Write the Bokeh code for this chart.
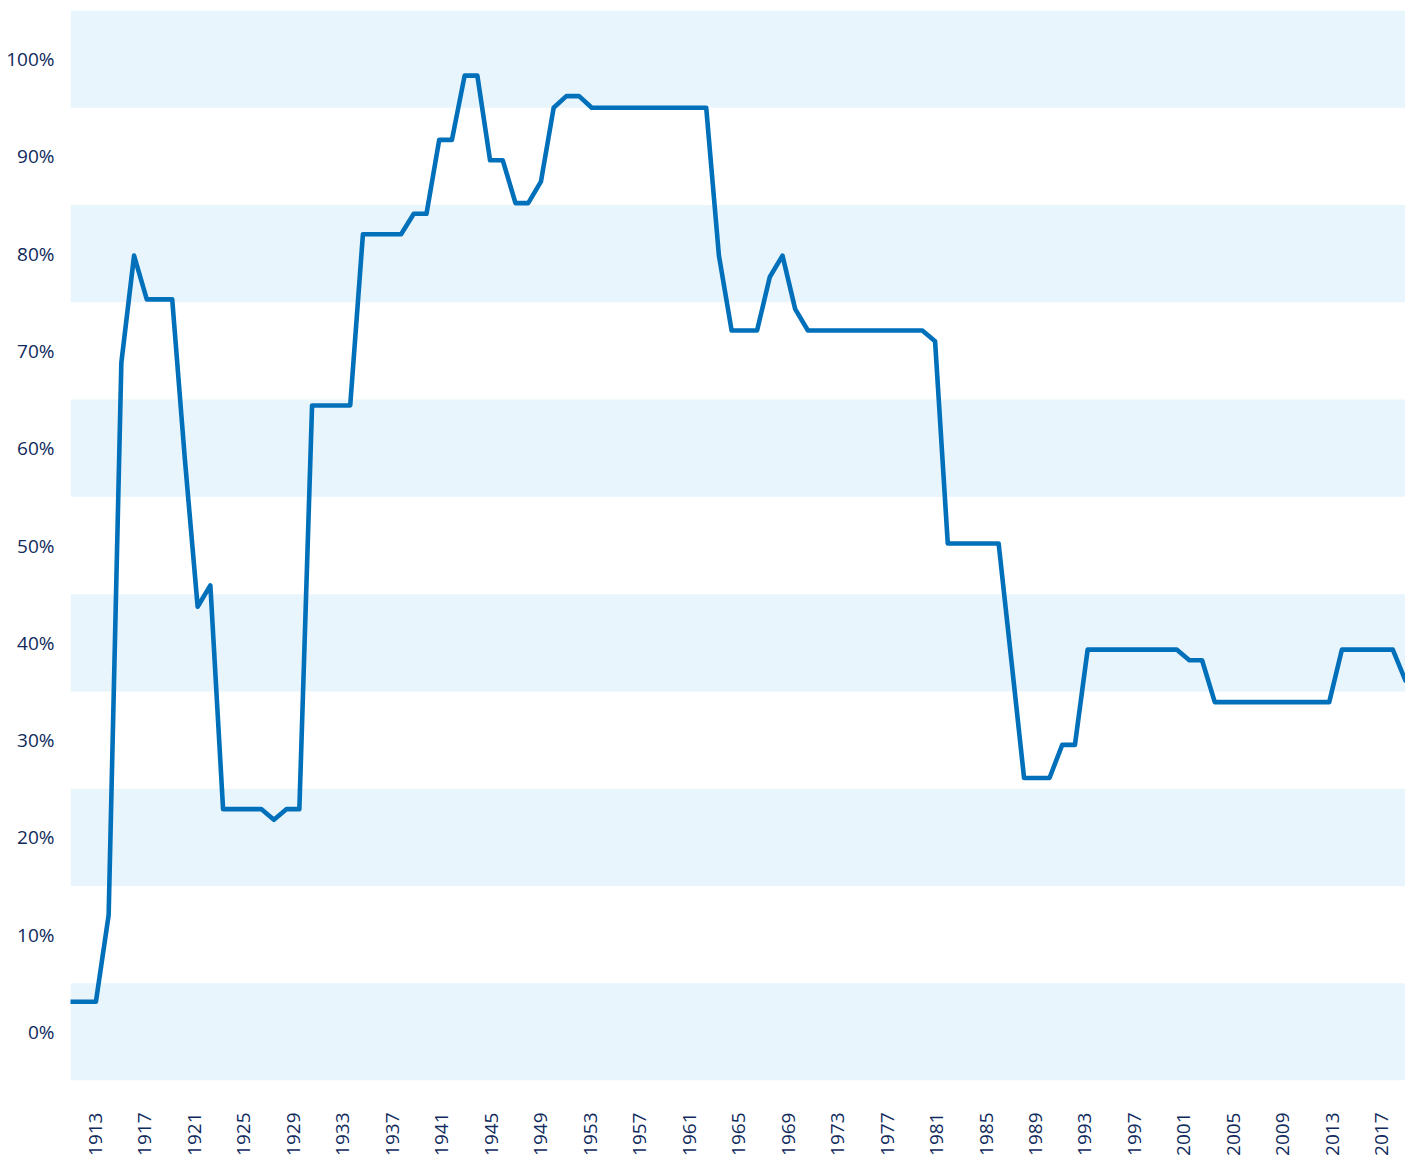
import math
from bokeh.plotting import figure
from bokeh.models import Range1d, FixedTicker, BoxAnnotation
from bokeh.embed import file_html
from bokeh.resources import INLINE

# ---- data (top marginal rate as drawn, %) ----
years = list(range(1913, 2019))
rates = [
    3.1, 3.1, 3.1, 12.0, 68.8, 79.8, 75.3, 75.3, 75.3, 58.8,   # 1913-1922
    43.7, 45.9, 22.9, 22.9, 22.9, 22.9, 21.8, 22.9, 22.9, 64.4, # 1923-1932
    64.4, 64.4, 64.4, 82.0, 82.0, 82.0, 82.0, 84.1, 84.1, 91.7, # 1933-1942
    91.7, 98.3, 98.3, 89.6, 89.6, 85.2, 85.2, 87.4, 95.0, 96.2, # 1943-1952
    96.2, 95.0, 95.0, 95.0, 95.0, 95.0, 95.0, 95.0, 95.0, 95.0, # 1953-1962
    95.0, 79.8, 72.1, 72.1, 72.1, 77.6, 79.8, 74.3, 72.1, 72.1, # 1963-1972
    72.1, 72.1, 72.1, 72.1, 72.1, 72.1, 72.1, 72.1, 71.0, 50.2, # 1973-1982
    50.2, 50.2, 50.2, 50.2, 38.2, 26.1, 26.1, 26.1, 29.5, 29.5, # 1983-1992
    39.3, 39.3, 39.3, 39.3, 39.3, 39.3, 39.3, 39.3, 38.2, 38.2, # 1993-2002
    33.9, 33.9, 33.9, 33.9, 33.9, 33.9, 33.9, 33.9, 33.9, 33.9, # 2003-2012
    39.3, 39.3, 39.3, 39.3, 39.3, 36.1,                         # 2013-2018
]
label_years = list(range(1913, 2018, 4))
y_ticks = list(range(0, 101, 10))
y_labels = [f"{v}%" for v in y_ticks]
band_centers = [0, 20, 40, 60, 80, 100]

TEXT = "#0f2a5c"
LINE = "#0070ba"
BAND = "#e8f5fc"
FONT = "Open Sans"

p = figure(width=1405, height=1160, output_backend="svg", toolbar_location=None,
           x_range=Range1d(1913, 2018), y_range=Range1d(-5, 105),
           min_border_left=70, min_border_right=0, min_border_top=10, min_border_bottom=80)
p.outline_line_color = None
p.background_fill_color = "white"
p.border_fill_color = "white"
p.xgrid.visible = False
p.ygrid.visible = False

for c in band_centers:
    p.add_layout(BoxAnnotation(bottom=c - 5, top=c + 5, fill_color=BAND, fill_alpha=1.0,
                               line_color=None, level="underlay"))

p.line(years, rates, line_color=LINE, line_width=4.6, line_join="round", line_cap="round")

# y axis
p.yaxis.ticker = FixedTicker(ticks=y_ticks)
p.yaxis.major_label_overrides = {t: l for t, l in zip(y_ticks, y_labels)}
p.yaxis.axis_line_color = None
p.yaxis.major_tick_line_color = None
p.yaxis.minor_tick_line_color = None
p.yaxis.major_label_standoff = 10
p.yaxis.major_label_text_font = FONT
p.yaxis.major_label_text_font_size = "19px"
p.yaxis.major_label_text_color = TEXT

# x axis: labels placed where the reference shows them
tick_pos = [1914.96 + (y - 1913) * 0.9729 for y in label_years]
p.xaxis.ticker = FixedTicker(ticks=tick_pos)
p.xaxis.major_label_overrides = {t: str(y) for t, y in zip(tick_pos, label_years)}
p.xaxis.major_label_orientation = math.pi / 2
p.xaxis.axis_line_color = None
p.xaxis.major_tick_line_color = None
p.xaxis.minor_tick_line_color = None
p.xaxis.major_label_standoff = 26
p.xaxis.major_label_text_font = FONT
p.xaxis.major_label_text_font_size = "19px"
p.xaxis.major_label_text_color = TEXT

open("out.html", "w").write(file_html(p, INLINE))
